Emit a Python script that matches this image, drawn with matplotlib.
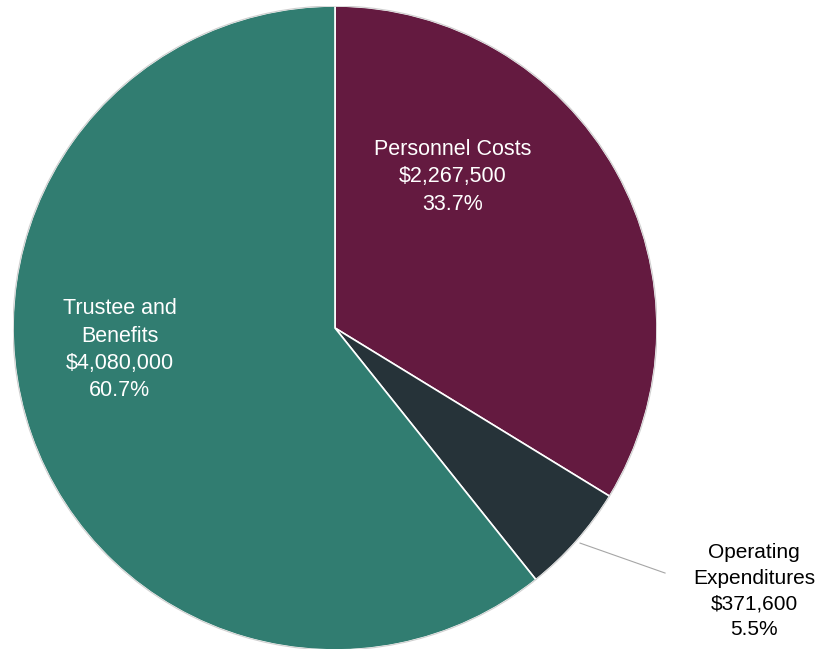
import matplotlib
matplotlib.use('Agg')
from matplotlib import pyplot as plt

plt.rcParams['font.family'] = ['Liberation Sans', 'DejaVu Sans']

categories = ['Personnel Costs', 'Operating\nExpenditures', 'Trustee and\nBenefits']
amounts = [2267500, 371600, 4080000]
percents = ['33.7%', '5.5%', '60.7%']
colors = ['#641a40', '#263339', '#317d71']

W, H = 817, 649
cx, cy, r = 335, 328, 322

fig = plt.figure(figsize=(W / 100, H / 100), dpi=100)
ax = fig.add_axes([(cx - r) / W, (H - cy - r) / H, 2 * r / W, 2 * r / H])

wedges, _ = ax.pie(amounts, colors=colors, startangle=90, counterclock=False,
                   radius=1, wedgeprops=dict(edgecolor='white', linewidth=1.2))
# light outer rim
ax.add_patch(plt.Circle((0, 0), 1, fill=False, edgecolor='#d0d0d0', linewidth=0.8))
ax.set_xlim(-1, 1)
ax.set_ylim(-1, 1)
ax.set_aspect('equal')
ax.axis('off')

labels = [f'{c}\n${a:,}\n{p}' for c, a, p in zip(categories, amounts, percents)]

fs = 15.5
ls = 1.4
ax.text(0.366, 0.469, labels[0], ha='center', va='center', color='white',
        fontsize=fs, linespacing=ls)
ax.text(-0.668, -0.068, labels[2], ha='center', va='center', color='white',
        fontsize=fs, linespacing=ls)
ax.text(1.302, -0.817, labels[1], ha='center', va='center', color='black',
        fontsize=15, linespacing=1.45, clip_on=False)
ax.plot([0.761, 1.025], [-0.668, -0.761], color='#a6a6a6', linewidth=0.8, clip_on=False)

fig.savefig('out.png', dpi=100, facecolor='white')
